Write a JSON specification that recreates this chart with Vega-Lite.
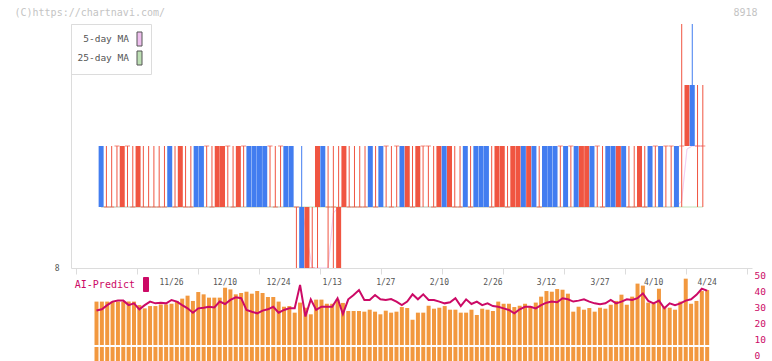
{
"$schema":"https://vega.github.io/schema/vega-lite/v6.json",
"width":772,"height":361,"autosize":{"type":"none"},"padding":0,"background":"#ffffff",
"config":{"view":{"stroke":null},"axis":{"grid":false,"labelFont":"DejaVu Sans Mono","titleFont":"DejaVu Sans Mono","titleFontWeight":"normal"},"legend":{"labelFont":"DejaVu Sans Mono"}},
"data":{"values":[
{"d":"11/5","i":0,"o":10,"h":10,"l":9,"c":9,"t":"down","v":36,"ai":29.3,"m5":9,"m25":9},
{"d":"11/6","i":1,"o":9,"h":10,"l":9,"c":9,"t":"doji","v":36,"ai":30.1,"m5":9,"m25":9},
{"d":"11/7","i":2,"o":9,"h":10,"l":9,"c":9,"t":"doji","v":36,"ai":32.7,"m5":9,"m25":9},
{"d":"11/10","i":3,"o":10,"h":10,"l":9,"c":10,"t":"doji","v":36,"ai":34.9,"m5":9,"m25":9},
{"d":"11/11","i":4,"o":9,"h":10,"l":9,"c":10,"t":"up","v":36,"ai":35.5,"m5":9,"m25":9},
{"d":"11/12","i":5,"o":10,"h":10,"l":9,"c":10,"t":"doji","v":36,"ai":35.5,"m5":9,"m25":9},
{"d":"11/13","i":6,"o":9,"h":10,"l":9,"c":9,"t":"doji","v":36,"ai":32.7,"m5":9,"m25":9},
{"d":"11/14","i":7,"o":9,"h":10,"l":9,"c":10,"t":"up","v":36,"ai":33.8,"m5":9,"m25":9},
{"d":"11/17","i":8,"o":9,"h":10,"l":9,"c":9,"t":"doji","v":33.9,"ai":30.1,"m5":9,"m25":9},
{"d":"11/18","i":9,"o":9,"h":10,"l":9,"c":9,"t":"doji","v":31.9,"ai":32.7,"m5":9,"m25":9},
{"d":"11/19","i":10,"o":9,"h":10,"l":9,"c":9,"t":"doji","v":33.3,"ai":34.9,"m5":9,"m25":9},
{"d":"11/20","i":11,"o":9,"h":10,"l":9,"c":9,"t":"doji","v":33.3,"ai":33.8,"m5":9,"m25":9},
{"d":"11/21","i":12,"o":9,"h":10,"l":9,"c":9,"t":"doji","v":34.3,"ai":34.2,"m5":9,"m25":9},
{"d":"11/25","i":13,"o":10,"h":10,"l":9,"c":9,"t":"down","v":34.3,"ai":33.8,"m5":9,"m25":9},
{"d":"11/26","i":14,"o":9,"h":10,"l":9,"c":9,"t":"doji","v":34.7,"ai":35.9,"m5":9,"m25":9},
{"d":"11/27","i":15,"o":9,"h":10,"l":9,"c":10,"t":"up","v":36.4,"ai":34.9,"m5":9,"m25":9},
{"d":"11/28","i":16,"o":9,"h":10,"l":9,"c":9,"t":"doji","v":37.8,"ai":32.7,"m5":9,"m25":9},
{"d":"12/1","i":17,"o":9,"h":10,"l":9,"c":9,"t":"doji","v":39.6,"ai":30.7,"m5":9,"m25":9},
{"d":"12/2","i":18,"o":10,"h":10,"l":9,"c":9,"t":"down","v":36.4,"ai":28.0,"m5":9,"m25":9},
{"d":"12/3","i":19,"o":10,"h":10,"l":9,"c":9,"t":"down","v":41.8,"ai":30.7,"m5":9,"m25":9},
{"d":"12/4","i":20,"o":10,"h":10,"l":9,"c":10,"t":"doji","v":40.4,"ai":31.1,"m5":9,"m25":9},
{"d":"12/5","i":21,"o":9,"h":10,"l":9,"c":9,"t":"doji","v":38.4,"ai":31.7,"m5":9,"m25":9},
{"d":"12/8","i":22,"o":9,"h":10,"l":9,"c":10,"t":"up","v":38.4,"ai":31.3,"m5":9,"m25":9},
{"d":"12/9","i":23,"o":9,"h":10,"l":9,"c":10,"t":"up","v":38.4,"ai":34.9,"m5":9,"m25":9},
{"d":"12/10","i":24,"o":10,"h":10,"l":9,"c":10,"t":"doji","v":44.4,"ai":33.4,"m5":9,"m25":9},
{"d":"12/11","i":25,"o":9,"h":10,"l":9,"c":9,"t":"doji","v":43.4,"ai":35.9,"m5":9,"m25":9},
{"d":"12/12","i":26,"o":9,"h":10,"l":9,"c":10,"t":"up","v":40.4,"ai":37.6,"m5":9,"m25":9},
{"d":"12/15","i":27,"o":10,"h":10,"l":9,"c":10,"t":"doji","v":41.2,"ai":37.0,"m5":9,"m25":9},
{"d":"12/16","i":28,"o":10,"h":10,"l":9,"c":9,"t":"down","v":42.0,"ai":29.7,"m5":9,"m25":9},
{"d":"12/17","i":29,"o":10,"h":10,"l":9,"c":9,"t":"down","v":40.8,"ai":28.6,"m5":9,"m25":9},
{"d":"12/18","i":30,"o":10,"h":10,"l":9,"c":9,"t":"down","v":42.4,"ai":27.6,"m5":9,"m25":9},
{"d":"12/19","i":31,"o":10,"h":10,"l":9,"c":9,"t":"down","v":41.2,"ai":29.3,"m5":9,"m25":9},
{"d":"12/22","i":32,"o":10,"h":10,"l":9,"c":10,"t":"doji","v":38.8,"ai":30.1,"m5":9,"m25":9},
{"d":"12/23","i":33,"o":9,"h":10,"l":9,"c":9,"t":"doji","v":38.8,"ai":31.7,"m5":9,"m25":9},
{"d":"12/24","i":34,"o":10,"h":10,"l":9,"c":10,"t":"doji","v":36.0,"ai":28.0,"m5":9,"m25":9},
{"d":"12/25","i":35,"o":10,"h":10,"l":9,"c":9,"t":"down","v":32.9,"ai":29.7,"m5":9,"m25":9},
{"d":"12/26","i":36,"o":10,"h":10,"l":9,"c":9,"t":"down","v":33.3,"ai":30.7,"m5":9,"m25":9},
{"d":"12/29","i":37,"o":9,"h":9,"l":8,"c":9,"t":"doji","v":29.3,"ai":30.7,"m5":9,"m25":9},
{"d":"12/30","i":38,"o":9,"h":10,"l":8,"c":8,"t":"down","v":35.4,"ai":45.3,"m5":9,"m25":9},
{"d":"1/5","i":39,"o":8,"h":9,"l":8,"c":9,"t":"up","v":32.3,"ai":25.6,"m5":8.5,"m25":9},
{"d":"1/6","i":40,"o":8,"h":9,"l":8,"c":8,"t":"doji","v":28.3,"ai":36.3,"m5":8,"m25":9},
{"d":"1/7","i":41,"o":9,"h":10,"l":8,"c":10,"t":"up","v":37.2,"ai":29.7,"m5":8,"m25":9},
{"d":"1/8","i":42,"o":10,"h":10,"l":9,"c":9,"t":"down","v":37.2,"ai":31.7,"m5":8,"m25":9},
{"d":"1/9","i":43,"o":9,"h":10,"l":8,"c":9,"t":"doji","v":34.7,"ai":31.7,"m5":8,"m25":9},
{"d":"1/13","i":44,"o":9,"h":10,"l":8,"c":9,"t":"doji","v":34.7,"ai":31.7,"m5":8.9,"m25":9},
{"d":"1/14","i":45,"o":8,"h":10,"l":8,"c":9,"t":"up","v":37.2,"ai":37.0,"m5":9,"m25":9},
{"d":"1/15","i":46,"o":9,"h":10,"l":9,"c":10,"t":"up","v":35.2,"ai":27.2,"m5":9,"m25":9},
{"d":"1/16","i":47,"o":9,"h":10,"l":9,"c":9,"t":"doji","v":30.3,"ai":36.3,"m5":9,"m25":9},
{"d":"1/19","i":48,"o":9,"h":10,"l":9,"c":9,"t":"doji","v":30.3,"ai":39.0,"m5":9,"m25":9},
{"d":"1/20","i":49,"o":9,"h":10,"l":9,"c":9,"t":"doji","v":30.3,"ai":42.1,"m5":9,"m25":9},
{"d":"1/21","i":50,"o":9,"h":10,"l":9,"c":9,"t":"doji","v":29.9,"ai":35.9,"m5":9,"m25":9},
{"d":"1/22","i":51,"o":10,"h":10,"l":9,"c":9,"t":"down","v":31.1,"ai":35.9,"m5":9,"m25":9},
{"d":"1/23","i":52,"o":9,"h":10,"l":9,"c":9,"t":"doji","v":29.9,"ai":39.0,"m5":9,"m25":9},
{"d":"1/26","i":53,"o":10,"h":10,"l":9,"c":9,"t":"down","v":28.3,"ai":36.3,"m5":9,"m25":9},
{"d":"1/27","i":54,"o":10,"h":10,"l":9,"c":10,"t":"doji","v":30.5,"ai":35.9,"m5":9,"m25":9},
{"d":"1/28","i":55,"o":9,"h":10,"l":9,"c":9,"t":"doji","v":29.3,"ai":36.5,"m5":9,"m25":9},
{"d":"1/29","i":56,"o":10,"h":10,"l":9,"c":10,"t":"doji","v":29.9,"ai":34.9,"m5":9,"m25":9},
{"d":"1/30","i":57,"o":10,"h":10,"l":9,"c":9,"t":"down","v":32.7,"ai":32.7,"m5":9,"m25":9},
{"d":"2/2","i":58,"o":9,"h":10,"l":9,"c":10,"t":"up","v":32.1,"ai":34.9,"m5":9,"m25":9},
{"d":"2/3","i":59,"o":9,"h":10,"l":9,"c":9,"t":"doji","v":25.0,"ai":39.4,"m5":9,"m25":9},
{"d":"2/4","i":60,"o":9,"h":10,"l":9,"c":10,"t":"up","v":29.3,"ai":36.3,"m5":9,"m25":9},
{"d":"2/5","i":61,"o":10,"h":10,"l":9,"c":10,"t":"doji","v":29.3,"ai":39.4,"m5":9,"m25":9},
{"d":"2/6","i":62,"o":10,"h":10,"l":9,"c":10,"t":"doji","v":33.5,"ai":35.9,"m5":9,"m25":9},
{"d":"2/9","i":63,"o":9,"h":10,"l":9,"c":9,"t":"doji","v":31.7,"ai":35.9,"m5":9,"m25":9},
{"d":"2/10","i":64,"o":9,"h":10,"l":9,"c":10,"t":"up","v":32.3,"ai":34.9,"m5":9,"m25":9},
{"d":"2/12","i":65,"o":10,"h":10,"l":9,"c":9,"t":"down","v":33.3,"ai":33.8,"m5":9,"m25":9},
{"d":"2/13","i":66,"o":9,"h":10,"l":9,"c":10,"t":"up","v":31.1,"ai":34.5,"m5":9,"m25":9},
{"d":"2/16","i":67,"o":9,"h":10,"l":9,"c":9,"t":"doji","v":31.1,"ai":37.0,"m5":9,"m25":9},
{"d":"2/17","i":68,"o":9,"h":10,"l":9,"c":9,"t":"doji","v":29.3,"ai":32.1,"m5":9,"m25":9},
{"d":"2/18","i":69,"o":10,"h":10,"l":9,"c":9,"t":"down","v":29.3,"ai":36.3,"m5":9,"m25":9},
{"d":"2/19","i":70,"o":9,"h":10,"l":9,"c":9,"t":"doji","v":31.1,"ai":33.4,"m5":9,"m25":9},
{"d":"2/20","i":71,"o":10,"h":10,"l":9,"c":9,"t":"down","v":27.9,"ai":34.9,"m5":9,"m25":9},
{"d":"2/24","i":72,"o":10,"h":10,"l":9,"c":9,"t":"down","v":31.7,"ai":32.7,"m5":9,"m25":9},
{"d":"2/25","i":73,"o":10,"h":10,"l":9,"c":9,"t":"down","v":31.1,"ai":33.8,"m5":9,"m25":9},
{"d":"2/26","i":74,"o":9,"h":10,"l":9,"c":9,"t":"doji","v":30.3,"ai":32.1,"m5":9,"m25":9},
{"d":"2/27","i":75,"o":9,"h":10,"l":9,"c":10,"t":"up","v":36.0,"ai":31.7,"m5":9,"m25":9},
{"d":"3/2","i":76,"o":9,"h":10,"l":9,"c":10,"t":"up","v":34.7,"ai":30.7,"m5":9,"m25":9},
{"d":"3/3","i":77,"o":9,"h":10,"l":9,"c":9,"t":"doji","v":34.7,"ai":29.7,"m5":9,"m25":9},
{"d":"3/4","i":78,"o":9,"h":10,"l":9,"c":10,"t":"up","v":32.7,"ai":27.6,"m5":9,"m25":9},
{"d":"3/5","i":79,"o":9,"h":10,"l":9,"c":10,"t":"up","v":33.5,"ai":30.1,"m5":9,"m25":9},
{"d":"3/6","i":80,"o":10,"h":10,"l":9,"c":9,"t":"down","v":34.7,"ai":31.7,"m5":9,"m25":9},
{"d":"3/9","i":81,"o":9,"h":10,"l":9,"c":10,"t":"up","v":33.1,"ai":31.7,"m5":9,"m25":9},
{"d":"3/10","i":82,"o":10,"h":10,"l":9,"c":9,"t":"down","v":35.4,"ai":30.7,"m5":9,"m25":9},
{"d":"3/11","i":83,"o":9,"h":10,"l":9,"c":9,"t":"doji","v":39.0,"ai":32.7,"m5":9,"m25":9},
{"d":"3/12","i":84,"o":10,"h":10,"l":9,"c":9,"t":"down","v":42.4,"ai":34.2,"m5":9,"m25":9},
{"d":"3/13","i":85,"o":10,"h":10,"l":9,"c":9,"t":"down","v":42.0,"ai":34.9,"m5":9,"m25":9},
{"d":"3/16","i":86,"o":10,"h":10,"l":9,"c":9,"t":"down","v":43.6,"ai":34.5,"m5":9,"m25":9},
{"d":"3/17","i":87,"o":10,"h":10,"l":9,"c":10,"t":"doji","v":43.2,"ai":37.0,"m5":9,"m25":9},
{"d":"3/18","i":88,"o":10,"h":10,"l":9,"c":9,"t":"down","v":40.8,"ai":36.3,"m5":9,"m25":9},
{"d":"3/19","i":89,"o":10,"h":10,"l":9,"c":10,"t":"doji","v":29.9,"ai":34.9,"m5":9,"m25":9},
{"d":"3/23","i":90,"o":10,"h":10,"l":9,"c":9,"t":"down","v":32.9,"ai":35.5,"m5":9,"m25":9},
{"d":"3/24","i":91,"o":9,"h":10,"l":9,"c":10,"t":"up","v":31.1,"ai":36.3,"m5":9,"m25":9},
{"d":"3/25","i":92,"o":9,"h":10,"l":9,"c":10,"t":"up","v":32.1,"ai":34.9,"m5":9,"m25":9},
{"d":"3/26","i":93,"o":10,"h":10,"l":9,"c":9,"t":"down","v":29.9,"ai":33.8,"m5":9,"m25":9},
{"d":"3/27","i":94,"o":10,"h":10,"l":9,"c":10,"t":"doji","v":32.3,"ai":33.2,"m5":9,"m25":9},
{"d":"3/30","i":95,"o":9,"h":10,"l":9,"c":9,"t":"doji","v":31.7,"ai":33.8,"m5":9,"m25":9},
{"d":"3/31","i":96,"o":10,"h":10,"l":9,"c":9,"t":"down","v":34.1,"ai":35.9,"m5":9,"m25":9},
{"d":"4/1","i":97,"o":10,"h":10,"l":9,"c":9,"t":"down","v":36.4,"ai":33.8,"m5":9,"m25":9},
{"d":"4/2","i":98,"o":9,"h":10,"l":9,"c":10,"t":"up","v":40.2,"ai":34.9,"m5":9,"m25":9},
{"d":"4/3","i":99,"o":10,"h":10,"l":9,"c":9,"t":"down","v":34.1,"ai":36.3,"m5":9,"m25":9},
{"d":"4/6","i":100,"o":9,"h":10,"l":9,"c":9,"t":"doji","v":39.0,"ai":35.9,"m5":9,"m25":9},
{"d":"4/7","i":101,"o":9,"h":10,"l":9,"c":9,"t":"doji","v":46.9,"ai":37.0,"m5":9,"m25":9},
{"d":"4/8","i":102,"o":9,"h":10,"l":9,"c":10,"t":"up","v":45.7,"ai":40.0,"m5":9,"m25":9},
{"d":"4/9","i":103,"o":9,"h":10,"l":9,"c":9,"t":"doji","v":35.4,"ai":35.3,"m5":9,"m25":9},
{"d":"4/10","i":104,"o":10,"h":10,"l":9,"c":9,"t":"down","v":34.7,"ai":33.8,"m5":9,"m25":9},
{"d":"4/13","i":105,"o":10,"h":10,"l":9,"c":10,"t":"doji","v":43.8,"ai":35.5,"m5":9,"m25":9},
{"d":"4/14","i":106,"o":10,"h":10,"l":9,"c":9,"t":"down","v":32.9,"ai":30.7,"m5":9,"m25":9},
{"d":"4/15","i":107,"o":10,"h":10,"l":9,"c":10,"t":"doji","v":32.3,"ai":33.8,"m5":9,"m25":9},
{"d":"4/16","i":108,"o":10,"h":10,"l":9,"c":10,"t":"doji","v":31.1,"ai":32.7,"m5":9,"m25":9},
{"d":"4/17","i":109,"o":10,"h":10,"l":9,"c":9,"t":"down","v":36.0,"ai":33.8,"m5":9,"m25":9},
{"d":"4/20","i":110,"o":10,"h":12,"l":9,"c":10,"t":"doji","v":49.9,"ai":35.5,"m5":9.1,"m25":9},
{"d":"4/21","i":111,"o":10,"h":11,"l":10,"c":11,"t":"up","v":34.7,"ai":36.3,"m5":9.95,"m25":9},
{"d":"4/22","i":112,"o":11,"h":12,"l":10,"c":10,"t":"down","v":36.4,"ai":39.1,"m5":10,"m25":9},
{"d":"4/23","i":113,"o":10,"h":11,"l":9,"c":10,"t":"doji","v":42.4,"ai":42.9,"m5":10,"m25":9},
{"d":"4/24","i":114,"o":10,"h":11,"l":9,"c":10,"t":"doji","v":43.0,"ai":41.7,"m5":10,"m25":9}
]},
"layer":[
 {"layer":[
   {"layer":[
     {"mark":{"type":"line","strokeWidth":1,"color":"#eebfee"},
      "encoding":{
       "x":{"field":"i","type":"quantitative","scale":{"domain":[-4.76,122.37],"range":[71,752],"nice":false,"zero":false},
        "axis":{"orient":"bottom","offset":-93,"zindex":1,"values":[-4.76,6.797,18.354,29.911,41.468,53.025,64.582,76.139,87.696,99.253,110.81,122.37],"labels":false,"tickSize":6,"tickColor":"#dcdcdc","domainColor":"#dcdcdc","title":null,"grid":false}},
       "y":{"field":"m5","type":"quantitative","scale":{"domain":[8,12],"range":[268,24],"nice":false,"zero":false},
        "axis":{"orient":"left","offset":-71,"zindex":1,"values":[8],"format":"d","ticks":false,"labelPadding":12,"labelFontSize":8,"labelColor":"#555555","domainColor":"#dcdcdc","grid":false,"title":"(C)https://chartnavi.com/","titleAngle":0,"titleX":-57,"titleY":12,"titleAlign":"left","titleBaseline":"middle","titleColor":"#c4c4c4","titleFontSize":10}},
       "strokeDash":{"datum":"5-day MA","type":"nominal","scale":{"domain":["5-day MA","25-day MA"],"range":[[1,0],[1,0]]},
        "legend":{"orient":"none","legendX":71,"legendY":24,"title":null,"padding":7,"strokeColor":"#dcdcdc","fillColor":"#ffffff","symbolType":"M-0.3333,-0.9333H0.3333V0.9333H-0.3333Z","symbolSize":225,"symbolStrokeWidth":1,"symbolStrokeColor":"#555555","symbolOffset":53.5,"labelOffset":-18.5,"labelAlign":"right","labelFontSize":9.5,"labelColor":"#555555","rowPadding":1,
         "encode":{"symbols":{"update":{"fill":{"signal":"datum.value === '5-day MA' ? '#eebfee' : '#bddfb4'"},"stroke":{"value":"#555555"},"strokeWidth":{"value":1},"strokeDash":{"value":[1,0]},"opacity":{"value":1}}}}}}
      }},
     {"mark":{"type":"line","strokeWidth":1,"color":"#bddfb4"},
      "encoding":{
       "x":{"field":"i","type":"quantitative","scale":{"domain":[-4.76,122.37],"range":[71,752],"nice":false,"zero":false}},
       "y":{"field":"m25","type":"quantitative","scale":{"domain":[8,12],"range":[268,24],"nice":false,"zero":false}},
       "strokeDash":{"datum":"25-day MA","type":"nominal","scale":{"domain":["5-day MA","25-day MA"],"range":[[1,0],[1,0]]},
        "legend":{"orient":"none","legendX":71,"legendY":24,"title":null,"padding":7,"strokeColor":"#dcdcdc","fillColor":"#ffffff","symbolType":"M-0.3333,-0.9333H0.3333V0.9333H-0.3333Z","symbolSize":225,"symbolStrokeWidth":1,"symbolStrokeColor":"#555555","symbolOffset":53.5,"labelOffset":-18.5,"labelAlign":"right","labelFontSize":9.5,"labelColor":"#555555","rowPadding":1,
         "encode":{"symbols":{"update":{"fill":{"signal":"datum.value === '5-day MA' ? '#eebfee' : '#bddfb4'"},"stroke":{"value":"#555555"},"strokeWidth":{"value":1},"strokeDash":{"value":[1,0]},"opacity":{"value":1}}}}}}
      }}
   ]},
   {"layer":[
     {"mark":{"type":"rule","strokeWidth":1},
      "encoding":{
       "x":{"field":"i","type":"quantitative","scale":{"domain":[-4.76,122.37],"range":[71,752],"nice":false,"zero":false}},
       "y":{"field":"l","type":"quantitative","scale":{"domain":[8,12],"range":[268,24],"nice":false,"zero":false}},
       "y2":{"field":"h"},
       "color":{"field":"t","type":"nominal","scale":{"domain":["up","down","doji"],"range":["#f05541","#427df0","#f05541"]},"legend":null}
      }},
     {"mark":{"type":"bar","width":5},
      "encoding":{
       "x":{"field":"i","type":"quantitative","scale":{"domain":[-4.76,122.37],"range":[71,752],"nice":false,"zero":false}},
       "y":{"field":"o","type":"quantitative","scale":{"domain":[8,12],"range":[268,24],"nice":false,"zero":false}},
       "y2":{"field":"c"},
       "color":{"field":"t","type":"nominal","scale":{"domain":["up","down","doji"],"range":["#f05541","#427df0","#f05541"]},"legend":null}
      }},
     {"transform":[{"filter":"datum.t === 'doji'"}],
      "mark":{"type":"tick","orient":"horizontal","size":5,"thickness":1},
      "encoding":{
       "x":{"field":"i","type":"quantitative","scale":{"domain":[-4.76,122.37],"range":[71,752],"nice":false,"zero":false}},
       "y":{"field":"o","type":"quantitative","scale":{"domain":[8,12],"range":[268,24],"nice":false,"zero":false}},
       "color":{"field":"t","type":"nominal","scale":{"domain":["up","down","doji"],"range":["#f05541","#427df0","#f05541"]},"legend":null}
      }}
   ]}
  ]
 },
 {"layer":[
   {"mark":{"type":"bar","color":"#f2983e"},
    "encoding":{
     "x":{"field":"d","type":"ordinal","sort":null,"scale":{"type":"band","range":[94.5,709.17],"paddingInner":0.2533,"paddingOuter":0},
      "axis":{"orient":"bottom","offset":-84,"zindex":1,"domain":false,"ticks":false,"labelPadding":1,"labelFontSize":8,"labelColor":"#555555","labelAngle":0,"labelOverlap":false,"values":["11/26","12/10","12/24","1/13","1/27","2/10","2/26","3/12","3/27","4/10","4/24"],"title":null}},
     "y":{"field":"v","type":"quantitative","scale":{"domain":[0,50],"range":[361,278.5],"nice":false,"zero":true},"axis":null}
    }},
   {"mark":{"type":"rule","color":"#ffffff","strokeWidth":1},
    "encoding":{
     "y":{"datum":9.1,"type":"quantitative","scale":{"domain":[0,50],"range":[361,278.5],"nice":false,"zero":true},"axis":null}
    }},
   {"mark":{"type":"line","strokeWidth":2},
    "encoding":{
     "x":{"field":"d","type":"ordinal","sort":null,"scale":{"type":"band","range":[94.5,709.17],"paddingInner":0.2533,"paddingOuter":0}},
     "y":{"field":"ai","type":"quantitative","scale":{"domain":[0,50],"range":[357.7,277.3],"nice":false,"zero":true},
      "axis":{"orient":"right","offset":-20,"zindex":1,"values":[0,10,20,30,40,50],"domain":false,"ticks":false,"labelPadding":2,"labelFontSize":9.5,"labelBaseline":"alphabetic","labelOffset":1,"labelColor":"#cc0a66","labelFlush":false,"grid":false,"title":"8918","titleAngle":0,"titleX":5,"titleY":12,"titleAlign":"right","titleBaseline":"middle","titleColor":"#c4c4c4","titleFontSize":10}},
     "order":{"field":"i","type":"quantitative"},
     "stroke":{"datum":"AI-Predict","type":"nominal","scale":{"range":["#cc0a66"]},
      "legend":{"orient":"none","legendX":71,"legendY":276.5,"title":null,"padding":0,"symbolType":"M-0.3333,-0.9333H0.3333V0.9333H-0.3333Z","symbolSize":225,"symbolStrokeWidth":1,"symbolOffset":67,"labelOffset":-19,"labelAlign":"right","labelFontSize":10,"labelColor":"#cc0a66",
       "encode":{"symbols":{"update":{"fill":{"value":"#cc0a66"},"stroke":{"value":"#cc0a66"},"strokeWidth":{"value":1},"opacity":{"value":1}}}}}}
    }}
 ],
 "resolve":{"scale":{"y":"independent"}}
 }
],
"resolve":{"scale":{"x":"independent","y":"independent","color":"independent"}}
}
